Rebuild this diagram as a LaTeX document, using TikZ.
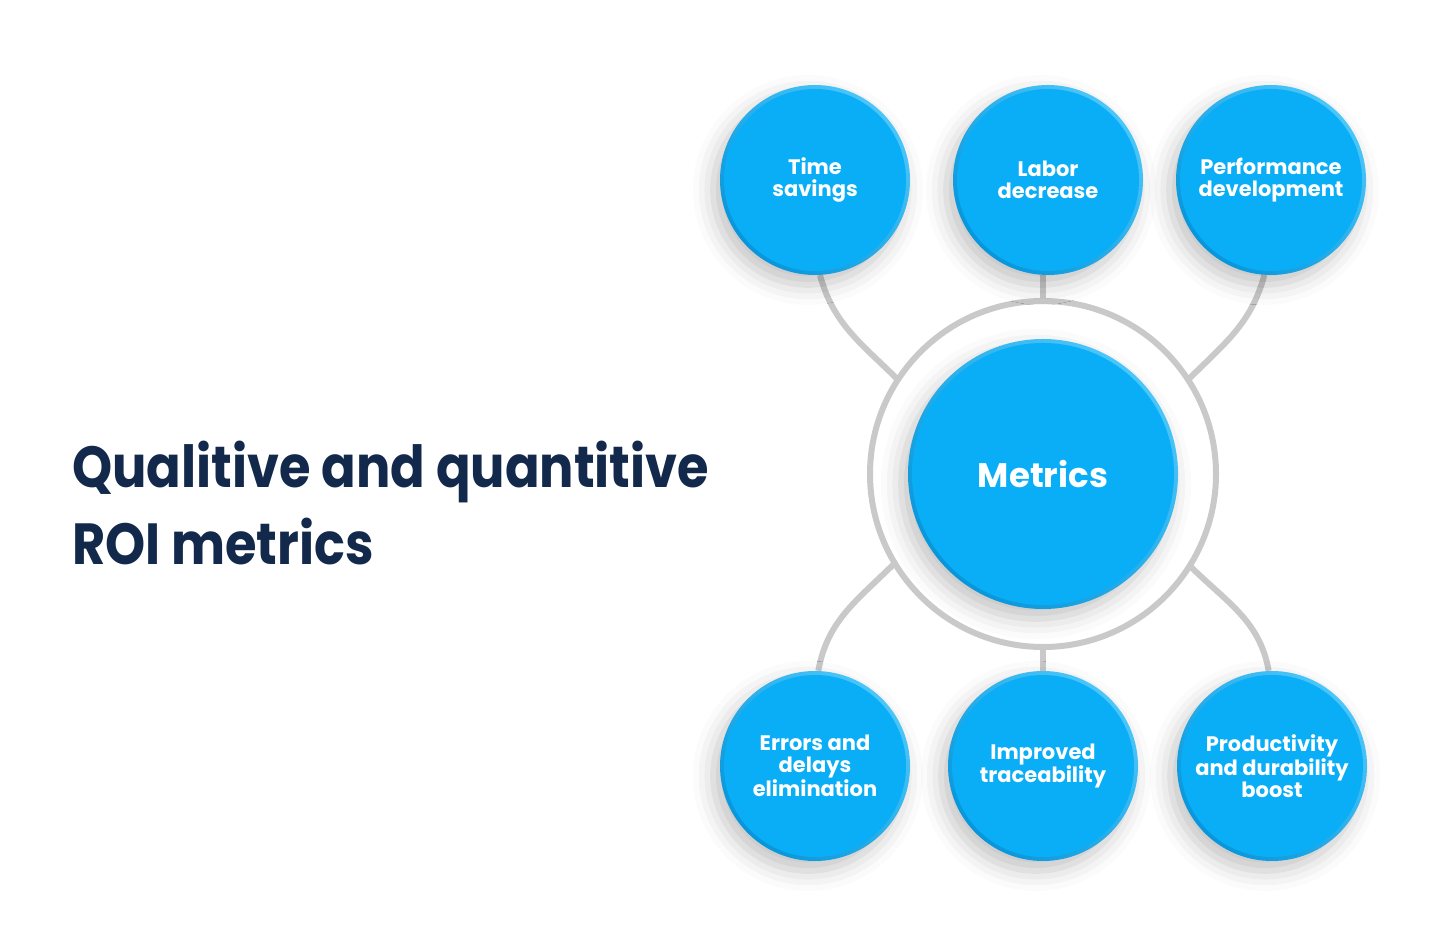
\documentclass[tikz,border=0pt]{standalone}
\usepackage{fontspec}
\setmainfont{Poppins}
\newfontfamily\headfont{Poppins}[FakeStretch=0.88]
\usetikzlibrary{shadows.blur,backgrounds}
\definecolor{bubbleBlue}{HTML}{0AAEF6}
\definecolor{rimLight}{HTML}{4CC6F9}
\definecolor{rimDark}{HTML}{0896DA}
\definecolor{linkGray}{HTML}{C9C9C9}
\definecolor{titleNavy}{HTML}{13294B}

\begin{document}
\begin{tikzpicture}[x=1pt,y=1pt]
\tikzset{bub/.style={circle,inner sep=0pt,minimum size=#1,top color=rimLight,bottom color=rimDark,shading angle=-45,
  blur shadow={shadow xshift=-7pt,shadow yshift=-10pt,shadow blur radius=20pt,shadow opacity=24},
  path picture={\fill[bubbleBlue] (path picture bounding box.center) circle (#1/2-4pt);},
  text=white,align=center,font=\bfseries\fontsize{21}{22}\selectfont}}
\tikzset{lnk/.style={draw=linkGray,line width=6pt}}
\tikzset{ttl/.style={anchor=base west,text=titleNavy,inner sep=0pt,font=\headfont\bfseries\fontsize{58}{70}\selectfont}}

\useasboundingbox (0,0) rectangle (1440,947);

% heading
\node[ttl] (title1) at (72,459) {Qualitive and quantitive};
\node[ttl] (title2) at (72,382) {ROI metrics};

% hub
\node[lnk,circle,minimum size=346pt,inner sep=0pt,outer sep=0pt] (ring) at (1043,473) {};
\node[bub=270pt,font=\bfseries\fontsize{34}{40}\selectfont] (M) at (1043,473) {Metrics};

% top row
\node[bub=190pt] (T1) at (815,767) {Time\\savings};
\node[bub=190pt] (T2) at (1048,767) {Labor\\decrease};
\node[bub=190pt] (T3) at (1271,767) {Performance\\development};

% bottom row
\node[bub=190pt] (B1) at (815,181) {Errors and\\delays\\elimination};
\node[bub=190pt] (B2) at (1043,181) {Improved\\traceability};
\node[bub=190pt] (B3) at (1272,181) {Productivity\\and durability\\boost};

\begin{pgfonlayer}{background}
\draw[lnk] (T1.-87) to[out=-75,in=135] (ring.147);
\draw[lnk] (ring.north) -- (ring.north |- T2.south);
\draw[lnk] (T3.-94) to[out=-105,in=45] (ring.33);
\draw[lnk] (ring.211) to[out=225,in=80] (B1.88);
\draw[lnk] (ring.south) -- (ring.south |- B2.north);
\draw[lnk] (ring.-32) to[out=-45,in=100] (B3.92);
\end{pgfonlayer}

\end{tikzpicture}
\end{document}
